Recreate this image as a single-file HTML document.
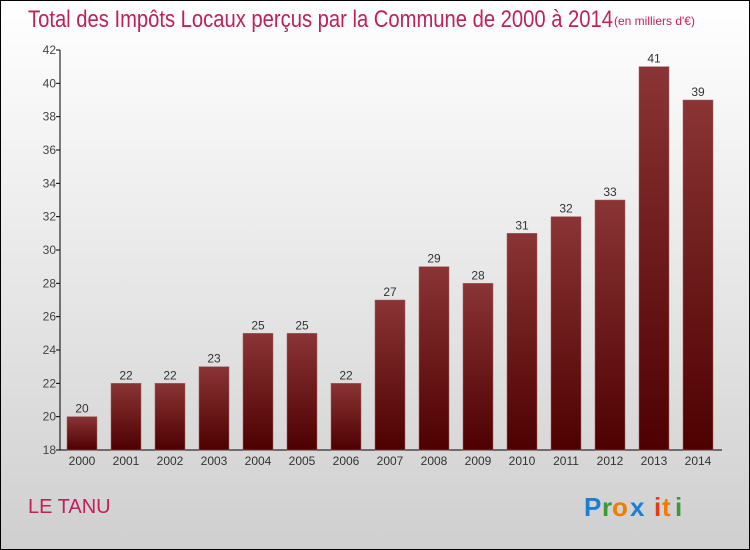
<!DOCTYPE html>
<html><head><meta charset="utf-8"><style>
body{margin:0}
#c{position:relative;width:750px;height:550px;box-sizing:border-box;border:1px solid #000;background:linear-gradient(#ffffff,#f6f6f6 20%,#cfcfcf);font-family:"Liberation Sans",sans-serif;overflow:hidden}
</style></head><body>
<div id="c">
<svg width="750" height="550" style="position:absolute;left:-1px;top:-1px" id="svg">
<defs><linearGradient id="g" x1="0" y1="0" x2="0" y2="1"><stop offset="0" stop-color="#8a3435"/><stop offset="1" stop-color="#4e0000"/></linearGradient></defs>
<text x="28" y="27" font-size="24" fill="#c0215a" textLength="585" lengthAdjust="spacingAndGlyphs">Total des Impôts Locaux perçus par la Commune de 2000 à 2014</text>
<text x="614" y="25" font-size="12" fill="#c0215a">(en milliers d'€)</text>
<text x="28" y="513" font-size="20" fill="#c0215a">LE TANU</text>
<g font-size="26" font-weight="bold">
<text x="584" y="516" fill="#1a7fd6">P</text><text x="602" y="516" fill="#3a9a3a">r</text><text x="612" y="516" fill="#f07d00">o</text><text x="630" y="516" fill="#1a7fd6">x</text><text x="654" y="516" fill="#e03a1a">i</text><text x="662" y="516" fill="#f07d00">t</text><text x="675" y="516" fill="#3a9a3a">i</text>
</g>
<g id="plot"></g>
</svg>
</div>
<script>
const categories=["2000","2001","2002","2003","2004","2005","2006","2007","2008","2009","2010","2011","2012","2013","2014"];
const values=[20,22,22,23,25,25,22,27,29,28,31,32,33,41,39];
const yTicks=[18,20,22,24,26,28,30,32,34,36,38,40,42];
const yMin=18,yMax=42,plotTop=50,plotBot=450,x0=60;
const y=v=>plotBot-(v-yMin)/(yMax-yMin)*(plotBot-plotTop);
const xc=i=>82+i*44;
const NS="http://www.w3.org/2000/svg",g=document.getElementById("plot");
function mk(t,a,txt){const e=document.createElementNS(NS,t);for(const k in a)e.setAttribute(k,a[k]);if(txt!=null)e.textContent=txt;g.appendChild(e);return e;}
let e;
e=mk("line",{x1:x0,y1:plotTop,x2:x0,y2:plotBot,stroke:"#000"});


e=mk("line",{x1:x0,y1:plotBot,x2:722,y2:plotBot,stroke:"#000"});


yTicks.forEach(t=>{
 e=mk("line",{x1:x0-4,y1:y(t),x2:x0,y2:y(t),stroke:"#000"});
 
 
 e=mk("text",{x:x0-4,y:y(t)+4,"font-size":12,fill:"#444","text-anchor":"end"},t);
 
 
});
categories.forEach((c,i)=>{
 const v=values[i];
 e=mk("rect",{x:xc(i)-15,y:y(v),width:30,height:plotBot-y(v),fill:"url(#g)",stroke:"#a06060","stroke-width":0.5});
 
 
 e=mk("text",{x:xc(i),y:y(v)-4,"font-size":12,fill:"#333","text-anchor":"middle"},v);
 
 
 e=mk("text",{x:xc(i),y:plotBot+15,"font-size":12,fill:"#333","text-anchor":"middle"},c);
 
 
});
</script>
</body></html>
